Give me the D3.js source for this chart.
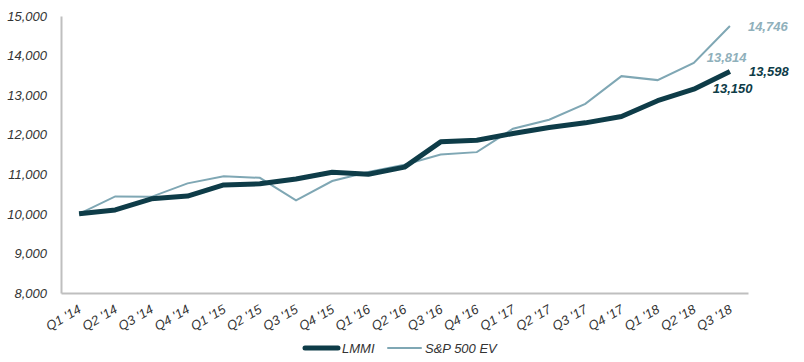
<!DOCTYPE html>
<html>
<head>
<meta charset="utf-8">
<script src="https://cdn.jsdelivr.net/npm/d3@7"></script>
<style>
  body { margin: 0; background: #fff; }
  text { font-family: "Liberation Sans", Arial, sans-serif; font-style: italic; }
</style>
</head>
<body>
<svg id="chart"></svg>
<script>
const width = 804;
const height = 362;

const quarters = ["Q1 '14", "Q2 '14", "Q3 '14", "Q4 '14", "Q1 '15", "Q2 '15", "Q3 '15", "Q4 '15",
  "Q1 '16", "Q2 '16", "Q3 '16", "Q4 '16", "Q1 '17", "Q2 '17", "Q3 '17", "Q4 '17",
  "Q1 '18", "Q2 '18", "Q3 '18"];
const lmmi = [10000, 10100, 10380, 10450, 10730, 10760, 10880, 11050, 11000, 11180,
  11820, 11860, 12030, 12180, 12300, 12460, 12860, 13150, 13598];
const spx = [10000, 10440, 10430, 10770, 10950, 10910, 10340, 10830, 11060, 11240,
  11500, 11560, 12150, 12380, 12780, 13480, 13380, 13814, 14746];
const yTicks = [8000, 9000, 10000, 11000, 12000, 13000, 14000, 15000];

const dark = "#0e3c48";
const light = "#7fa7b4";

const margin = { top: 16, right: 56, bottom: 69, left: 61 };

const svg = d3.select("#chart").attr("width", width).attr("height", height);

const x = d3.scaleBand().domain(quarters).range([margin.left, width - margin.right]);
const y = d3.scaleLinear().domain([8000, 15000]).range([height - margin.bottom, margin.top]);

// axes
svg.append("g")
  .attr("transform", `translate(${margin.left},0)`)
  .call(d3.axisLeft(y).tickValues(yTicks).tickSize(0).tickPadding(14).tickFormat(d3.format(",")))
  .call((g) => g.select(".domain").attr("stroke", "#bfbfbf").attr("stroke-width", 2))
  .call((g) => g.selectAll("text").attr("font-size", 13).attr("fill", "#333"));

svg.append("g")
  .attr("transform", `translate(0,${height - margin.bottom})`)
  .call(d3.axisBottom(x).tickSize(0).tickPadding(0).tickSizeOuter(0))
  .call((g) => g.select(".domain").attr("stroke", "#bfbfbf").attr("stroke-width", 2))
  .call((g) => g.selectAll("text")
    .attr("font-size", 13)
    .attr("fill", "#333")
    .attr("text-anchor", "end")
    .attr("dy", 0)
    .attr("transform", "translate(3,19) rotate(-30)"));

const line = (vals) => d3.line()
  .x((d, i) => x(quarters[i]) + x.bandwidth() / 2)
  .y((d) => y(d))(vals);

svg.append("path")
  .attr("d", line(spx))
  .attr("fill", "none")
  .attr("stroke", light)
  .attr("stroke-width", 2);

svg.append("path")
  .attr("d", line(lmmi))
  .attr("fill", "none")
  .attr("stroke", dark)
  .attr("stroke-width", 5)
  .attr("stroke-linejoin", "round");

// end labels
const fmt = d3.format(",");
const cx = (i) => x(quarters[i]) + x.bandwidth() / 2;
const labels = [
  { v: spx[18], i: 18, dx: 18, off: 0, color: "#8fb0bb" },
  { v: spx[17], i: 17, dx: 13, off: -5, color: "#8fb0bb" },
  { v: lmmi[18], i: 18, dx: 19, off: 0, color: dark },
  { v: lmmi[17], i: 17, dx: 19, off: -1, color: dark },
];
labels.forEach((d) => {
  svg.append("text")
    .attr("x", cx(d.i) + d.dx)
    .attr("y", y(d.v) + d.off)
    .attr("dy", "0.35em")
    .attr("font-size", 13)
    .attr("font-weight", "bold")
    .attr("fill", d.color)
    .text(fmt(d.v));
});

// legend
const legend = [{ name: "LMMI", color: dark, w: 5, x: 305 }, { name: "S&P 500 EV", color: light, w: 2, x: 388 }];
legend.forEach((d) => {
  svg.append("line")
    .attr("x1", d.x).attr("x2", d.x + 33)
    .attr("y1", 348).attr("y2", 348)
    .attr("stroke", d.color)
    .attr("stroke-width", d.w)
    .attr("stroke-linecap", "round");
  svg.append("text")
    .attr("x", d.x + 37)
    .attr("y", 348)
    .attr("dy", "0.35em")
    .attr("font-size", 13)
    .attr("fill", "#333")
    .text(d.name);
});
</script>
</body>
</html>
